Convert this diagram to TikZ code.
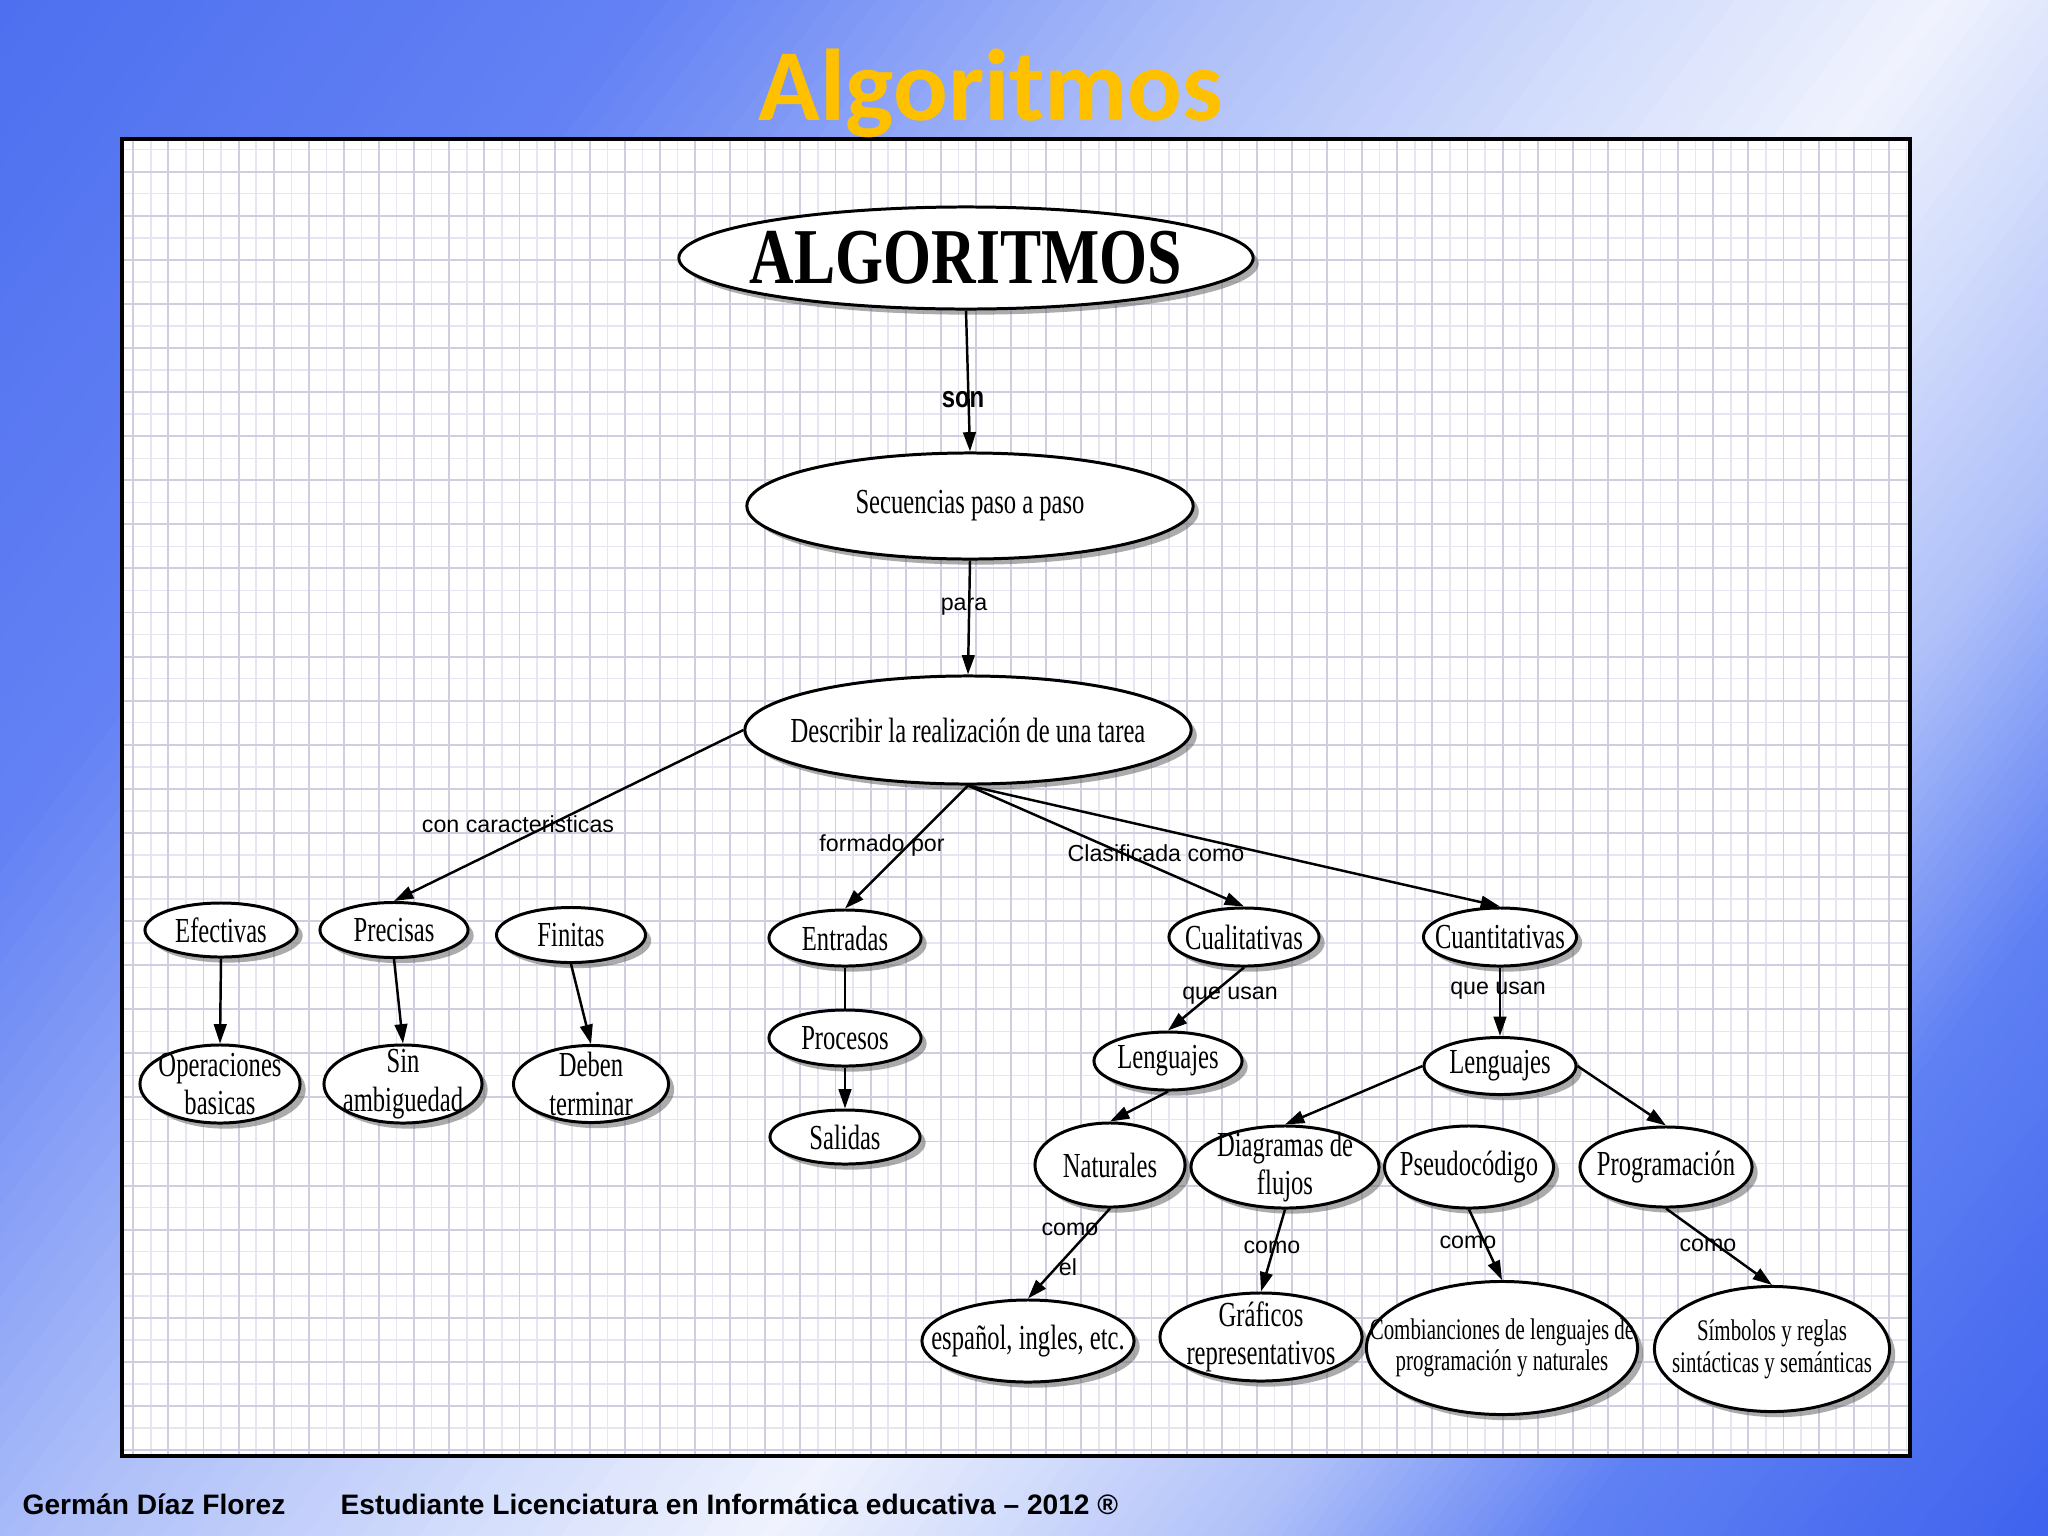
\documentclass[tikz,border=0pt]{standalone}
\usepackage{fontspec}
\setmainfont{Liberation Serif}
\setsansfont{Liberation Sans}
\newfontfamily\titlefont{Carlito}
\usepackage{graphicx}
\usetikzlibrary{arrows.meta,shapes.geometric,shadows}

\definecolor{g0}{RGB}{78,112,240}
\definecolor{g1}{RGB}{100,130,244}
\definecolor{g2}{RGB}{175,192,249}
\definecolor{g3}{RGB}{240,243,254}
\definecolor{g4}{RGB}{175,192,249}
\definecolor{g5}{RGB}{95,128,243}
\definecolor{g6}{RGB}{62,98,238}
\definecolor{gridmaj}{RGB}{206,206,224}
\definecolor{gridmin}{RGB}{230,230,240}
\definecolor{titlegold}{RGB}{255,192,0}

\newcommand{\cz}[1]{\scalebox{0.7}[1]{#1}}
\newcommand{\gseg}[4]{\foreach \k in {0,4,...,96}{\pgfmathsetmacro\gpos{#1+(#2-#1)/100*\k}\fill[#4!\k!#3] (\gpos,-1600) rectangle (2700,1600);}}

\begin{document}
\begin{tikzpicture}[x=0.01cm, y=-0.01cm,
  >={Triangle[length=5.5pt,width=3.6pt]},
  oval/.style={ellipse, draw=black, line width=0.85pt, fill=white, inner sep=0pt,
    drop shadow={shadow xshift=1.6pt, shadow yshift=-1.6pt, fill=black!60, opacity=0.55}},
  ntxt/.style={align=center, inner sep=0pt, font=\fontsize{10}{11}\selectfont},
  stxt/.style={align=center, inner sep=0pt, font=\fontsize{8.5}{9}\selectfont},
  lbl/.style={inner sep=0pt, font=\sffamily\fontsize{6.6}{8}\selectfont},
  conn/.style={line width=0.7pt, ->},
  plainedge/.style={line width=0.7pt},
  foot/.style={anchor=base west, inner sep=0pt, font=\sffamily\bfseries\fontsize{8}{9.6}\selectfont}]

\useasboundingbox (0,0) rectangle (2048,1536);

% background gradient
\begin{scope}
  \clip (0,0) rectangle (2048,1536);
  \begin{scope}[rotate=-37.43]
    \gseg{0}{512}{g0}{g1}
    \gseg{512}{973}{g1}{g2}
    \gseg{973}{1536}{g2}{g3}
    \gseg{1536}{1920}{g3}{g4}
    \gseg{1920}{2176}{g4}{g5}
    \gseg{2176}{2560}{g5}{g6}
  \end{scope}
\end{scope}

% frame with grid paper
\fill[white] (122,139) rectangle (1910,1456);
\begin{scope}
  \clip (122,139) rectangle (1910,1456);
  \foreach \i in {0,...,50} {
    \draw[gridmin, line width=0.4pt] ({150.85+35.11*\i},139) -- ++(0,1317);
  }
  \foreach \j in {0,...,29} {
    \draw[gridmin, line width=0.4pt] (122,{149.7+44.08*\j}) -- ++(1788,0);
  }
  \foreach \i in {0,...,50} {
    \draw[gridmaj, line width=0.55pt] ({133.3+35.11*\i},139) -- ++(0,1317);
  }
  \foreach \j in {0,...,29} {
    \draw[gridmaj, line width=0.55pt] (122,{171.7+44.08*\j}) -- ++(1788,0);
  }
\end{scope}
\draw[line width=1.1pt] (122,139) rectangle (1910,1456);

% title
\node[anchor=base, inner sep=0pt, font=\titlefont\bfseries\fontsize{29}{34}\selectfont, text=titlegold] (titulo) at (991,120) {Algoritmos};

% nodes
\node[oval, minimum width=5.74cm, minimum height=1.02cm,
  label={[inner sep=0pt, font=\bfseries\fontsize{22.5}{26}\selectfont]center:{\scalebox{0.78}[1]{ALGORITMOS}}}] (alg) at (966,258) {};
\node[oval, minimum width=4.46cm, minimum height=1.06cm, label={[ntxt]center:{\cz{Secuencias paso a paso}}}] (sec) at (970,506) {};
\node[oval, minimum width=4.46cm, minimum height=1.08cm, label={[ntxt]center:{\cz{Describir la realización de una tarea}}}] (desc) at (968,730) {};

\node[oval, minimum width=1.52cm, minimum height=0.54cm, label={[ntxt]center:{\cz{Efectivas}}}] (efe) at (221,930) {};
\node[oval, minimum width=1.48cm, minimum height=0.55cm, label={[ntxt]center:{\cz{Precisas}}}] (pre) at (394,930) {};
\node[oval, minimum width=1.49cm, minimum height=0.55cm, label={[ntxt]center:{\cz{Finitas}}}] (fin) at (571,935) {};
\node[oval, minimum width=1.52cm, minimum height=0.56cm, label={[ntxt]center:{\cz{Entradas}}}] (ent) at (845,938) {};
\node[oval, minimum width=1.50cm, minimum height=0.58cm, label={[ntxt]center:{\cz{Cualitativas}}}] (cual) at (1244,937) {};
\node[oval, minimum width=1.53cm, minimum height=0.58cm, label={[ntxt]center:{\cz{Cuantitativas}}}] (cuan) at (1500,937) {};

\node[oval, minimum width=1.60cm, minimum height=0.78cm, label={[ntxt]center:{\cz{Operaciones}\\\cz{basicas}}}] (ope) at (220,1084) {};
\node[oval, minimum width=1.58cm, minimum height=0.78cm, label={[ntxt]center:{\cz{Sin}\\\cz{ambiguedad}}}] (sin) at (403,1084) {};
\node[oval, minimum width=1.55cm, minimum height=0.77cm, label={[ntxt]center:{\cz{Deben}\\\cz{terminar}}}] (deb) at (591,1084) {};
\node[oval, minimum width=1.52cm, minimum height=0.56cm, label={[ntxt]center:{\cz{Procesos}}}] (pro) at (845,1038) {};
\node[oval, minimum width=1.50cm, minimum height=0.54cm, label={[ntxt]center:{\cz{Salidas}}}] (sal) at (845,1137) {};

\node[oval, minimum width=1.48cm, minimum height=0.58cm, label={[ntxt]center:{\cz{Lenguajes}}}] (lenL) at (1168,1061) {};
\node[oval, minimum width=1.52cm, minimum height=0.57cm, label={[ntxt]center:{\cz{Lenguajes}}}] (lenR) at (1500,1066) {};

\node[oval, minimum width=1.50cm, minimum height=0.84cm, label={[ntxt]center:{\cz{Naturales}}}] (nat) at (1110,1165) {};
\node[oval, minimum width=1.88cm, minimum height=0.82cm, label={[ntxt]center:{\cz{Diagramas de}\\\cz{flujos}}}] (dia) at (1285,1167) {};
\node[oval, minimum width=1.69cm, minimum height=0.82cm, label={[ntxt]center:{\cz{Pseudocódigo}}}] (pse) at (1469,1167) {};
\node[oval, minimum width=1.72cm, minimum height=0.80cm, label={[ntxt]center:{\cz{Programación}}}] (prg) at (1666,1167) {};

\node[oval, minimum width=2.12cm, minimum height=0.82cm, label={[ntxt]center:{\cz{español, ingles, etc.}}}] (esp) at (1028,1341) {};
\node[oval, minimum width=2.02cm, minimum height=0.88cm, label={[ntxt]center:{\cz{Gráficos}\\\cz{representativos}}}] (gra) at (1261,1337) {};
\node[oval, minimum width=2.71cm, minimum height=1.33cm, label={[stxt]center:{\cz{Combianciones de lenguajes de}\\\cz{programación y naturales}}}] (com) at (1502,1348) {};
\node[oval, minimum width=2.35cm, minimum height=1.25cm, label={[stxt]center:{\cz{Símbolos y reglas}\\\cz{sintácticas y semánticas}}}] (sim) at (1772,1349) {};

% connectors
\draw[conn] (alg.south) -- (sec.north);
\draw[conn] (sec.south) -- (desc.north);
\draw[conn] (desc.west) -- (pre.north);
\draw[conn] (desc.south) -- (ent.north);
\draw[conn] (desc.south) -- (cual.north);
\draw[conn] (desc.south) -- (cuan.north);
\draw[conn] (efe.south) -- (ope.north);
\draw[conn] (pre.south) -- (sin.north);
\draw[conn] (fin.south) -- (deb.north);
\draw[plainedge] (ent.south) -- (pro.north);
\draw[conn] (pro.south) -- (sal.north);
\draw[conn] (cual.south) -- (lenL.north);
\draw[conn] (cuan.south) -- (lenR.north);
\draw[conn] (lenL.south) -- (nat.north);
\draw[conn] (lenR.west) -- (dia.north);
\draw[conn] (lenR.east) -- (prg.north);
\draw[conn] (nat.south) -- (esp.north);
\draw[conn] (dia.south) -- (gra.north);
\draw[conn] (pse.south) -- (com.north);
\draw[conn] (prg.south) -- (sim.north);

% connector labels
\node[inner sep=0pt, font=\sffamily\bfseries\fontsize{8.5}{10}\selectfont] (lson) at (963,400) {\scalebox{0.8}[1]{son}};
\node[lbl] (lpara) at (964,607) {para};
\node[lbl] (lcon) at (518,824) {con caracteristicas};
\node[lbl] (lform) at (882,845) {formado por};
\node[lbl] (lclas) at (1156,853) {Clasificada como};
\node[lbl] (lque1) at (1230,996) {que usan};
\node[lbl] (lque2) at (1498,991) {que usan};
\node[lbl] (lcomo1) at (1070,1229) {como};
\node[lbl] (lel) at (1068,1267) {el};
\node[lbl] (lcomo2) at (1272,1247) {como};
\node[lbl] (lcomo3) at (1468,1242) {como};
\node[lbl] (lcomo4) at (1708,1245) {como};

% footer
\node[foot] (autor) at (22,1514) {Germán Díaz Florez};
\node[foot] (estud) at (340,1514) {Estudiante Licenciatura en Informática educativa – 2012 ®};
\end{tikzpicture}
\end{document}
